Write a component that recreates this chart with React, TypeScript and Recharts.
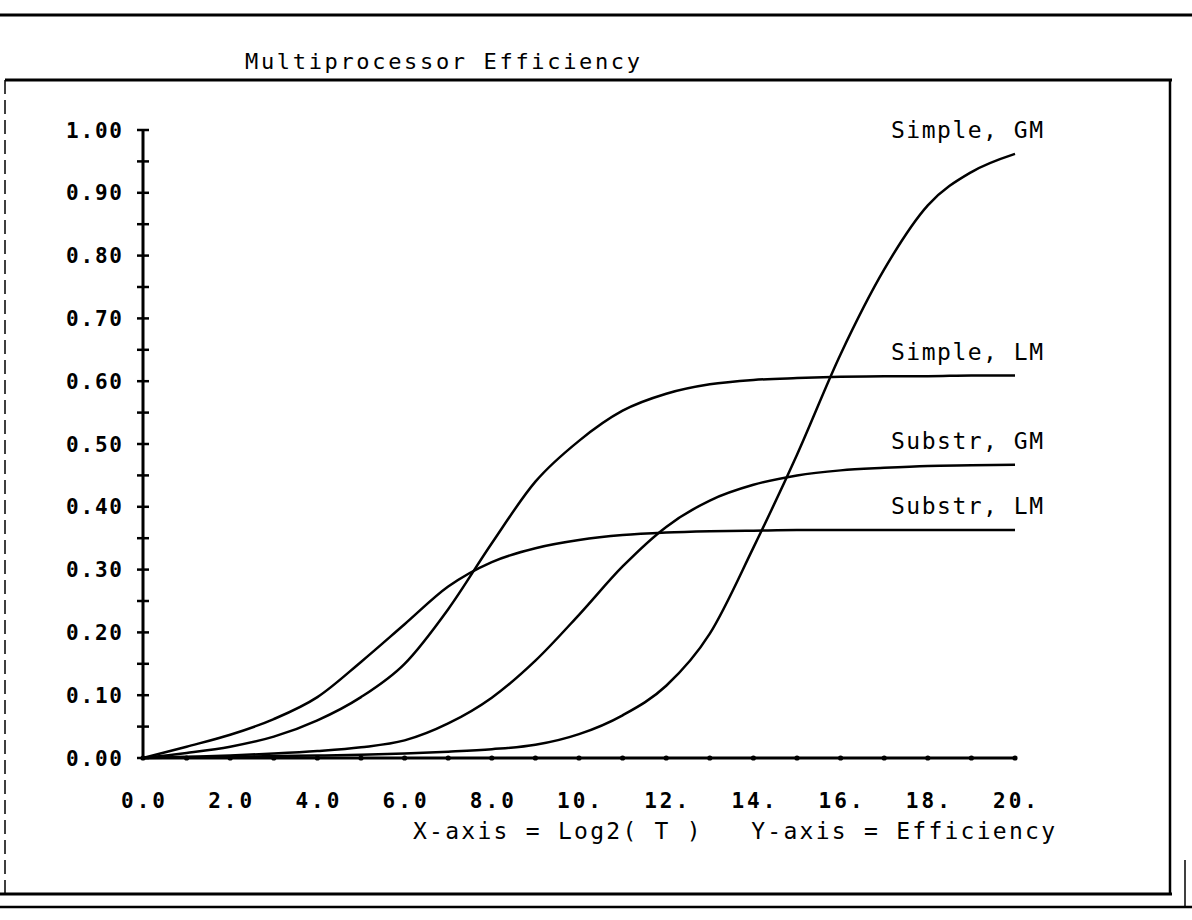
import React from 'react';
import { LineChart, Line, XAxis, YAxis } from 'recharts';

// log2(T) sample points
const logT = [0, 1, 2, 3, 4, 5, 6, 7, 8, 9, 10, 11, 12, 13, 14, 15, 16, 17, 18, 19, 20];

// efficiency (corrected for the scan tilt)
const simpleGM = [0, 0.001, 0.002, 0.003, 0.004, 0.005, 0.007, 0.010, 0.014, 0.021, 0.038, 0.068, 0.115, 0.198, 0.335, 0.483, 0.643, 0.778, 0.880, 0.933, 0.962];
const simpleLM = [0, 0.008, 0.018, 0.034, 0.060, 0.097, 0.150, 0.237, 0.342, 0.440, 0.505, 0.553, 0.580, 0.595, 0.602, 0.605, 0.607, 0.608, 0.608, 0.609, 0.609];
const substrGM = [0, 0.002, 0.004, 0.007, 0.011, 0.017, 0.028, 0.055, 0.096, 0.155, 0.228, 0.305, 0.368, 0.410, 0.435, 0.450, 0.458, 0.462, 0.465, 0.466, 0.467];
const substrLM = [0, 0.018, 0.037, 0.062, 0.097, 0.153, 0.213, 0.273, 0.312, 0.334, 0.347, 0.355, 0.359, 0.361, 0.362, 0.363, 0.363, 0.363, 0.363, 0.363, 0.363];

const xTicks = [0, 1, 2, 3, 4, 5, 6, 7, 8, 9, 10, 11, 12, 13, 14, 15, 16, 17, 18, 19, 20];
const xTickLabels = ['0.0', '2.0', '4.0', '6.0', '8.0', '10.', '12.', '14.', '16.', '18.', '20.'];
const yTicks = [0, 0.05, 0.1, 0.15, 0.2, 0.25, 0.3, 0.35, 0.4, 0.45, 0.5, 0.55, 0.6, 0.65, 0.7, 0.75, 0.8, 0.85, 0.9, 0.95, 1.0];
const yTickLabels = ['0.00', '0.10', '0.20', '0.30', '0.40', '0.50', '0.60', '0.70', '0.80', '0.90', '1.00'];

const series = [
  { key: 'simpleGM', label: 'Simple, GM', values: simpleGM },
  { key: 'simpleLM', label: 'Simple, LM', values: simpleLM },
  { key: 'substrGM', label: 'Substr, GM', values: substrGM },
  { key: 'substrLM', label: 'Substr, LM', values: substrLM },
];

const data = logT.map((t, i) => {
  const row: any = { t };
  series.forEach((s) => { row[s.key] = s.values[i]; });
  return row;
});

const FONT = '"DejaVu Sans Mono", "Liberation Mono", monospace';

const XTick = (props: any) => {
  const { x, y, index } = props;
  const label = index % 2 === 0 ? xTickLabels[index / 2] : null;
  return (
    <g>
      <circle cx={x} cy={y} r={2.6} fill="#000" />
      {label && (
        <text x={x} y={y + 50} textAnchor="middle" fontFamily={FONT} fontWeight="bold" fontSize={21}
          textLength={44} lengthAdjust="spacing" fill="#000">{label}</text>
      )}
    </g>
  );
};

const YTick = (props: any) => {
  const { x, y, index } = props;
  const label = index % 2 === 0 ? yTickLabels[index / 2] : null;
  return (
    <g>
      <line x1={x - 6} x2={x + 6} y1={y} y2={y} stroke="#000" strokeWidth={2.5} />
      {label && (
        <text x={x - 21} y={y + 7.5} textAnchor="end" fontFamily={FONT} fontWeight="bold" fontSize={21}
          textLength={56} lengthAdjust="spacing" fill="#000">{label}</text>
      )}
    </g>
  );
};

const endLabel = (text: string) => (props: any) => {
  const { x, y, index } = props;
  if (index !== logT.length - 1) return <g />;
  return (
    <text x={x + 28} y={y - 16} textAnchor="end" fontFamily={FONT} fontSize={23}
      textLength={152} lengthAdjust="spacing" fill="#000">{text}</text>
  );
};

export default function App() {
  return (
    <div style={{ position: 'absolute', left: 0, top: 0, width: 1192, height: 920, background: '#fff', overflow: 'hidden' }}>
      <svg width={1192} height={920} style={{ position: 'absolute', left: 0, top: 0 }}>
        <line x1={0} x2={1192} y1={15} y2={15} stroke="#000" strokeWidth={3} />
        <text x={245} y={69} fontFamily={FONT} fontSize={22} textLength={395} lengthAdjust="spacing" fill="#000">
          Multiprocessor Efficiency
        </text>
        <line x1={5} x2={1172} y1={80} y2={80} stroke="#000" strokeWidth={3} />
        <line x1={5} x2={5} y1={80} y2={893} stroke="#000" strokeWidth={1.5} strokeDasharray="14 6" />
        <line x1={1170} x2={1170} y1={80} y2={895} stroke="#000" strokeWidth={2.5} />
        <line x1={1185} x2={1185} y1={860} y2={906} stroke="#000" strokeWidth={1.5} />
        <line x1={0} x2={1172} y1={894} y2={894} stroke="#000" strokeWidth={3} />
        <line x1={0} x2={1192} y1={907} y2={907} stroke="#000" strokeWidth={2.5} />
        <text x={413} y={839} fontFamily={FONT} fontSize={23} textLength={642} lengthAdjust="spacing" fill="#000"
          style={{ whiteSpace: 'pre' }}>
          {'X-axis = Log2( T )   Y-axis = Efficiency'}
        </text>
      </svg>
      <div style={{ position: 'absolute', left: 0, top: 0 }}>
        <LineChart width={1192} height={920} data={data} margin={{ top: 130, right: 177, bottom: 102, left: 43 }}>
          <XAxis
            type="number"
            dataKey="t"
            domain={[0, 20]}
            ticks={xTicks}
            interval={0}
            height={60}
            tickSize={0}
            tickMargin={0}
            tickLine={false}
            axisLine={{ stroke: '#000', strokeWidth: 3 }}
            tick={<XTick />}
          />
          <YAxis
            type="number"
            domain={[0, 1]}
            ticks={yTicks}
            interval={0}
            width={100}
            tickSize={0}
            tickMargin={0}
            tickLine={false}
            axisLine={{ stroke: '#000', strokeWidth: 3 }}
            tick={<YTick />}
          />
          {series.map((s) => (
            <Line
              key={s.key}
              dataKey={s.key}
              type="monotone"
              stroke="#000"
              strokeWidth={2.5}
              dot={false}
              activeDot={false}
              isAnimationActive={false}
              label={endLabel(s.label)}
            />
          ))}
        </LineChart>
      </div>
    </div>
  );
}
